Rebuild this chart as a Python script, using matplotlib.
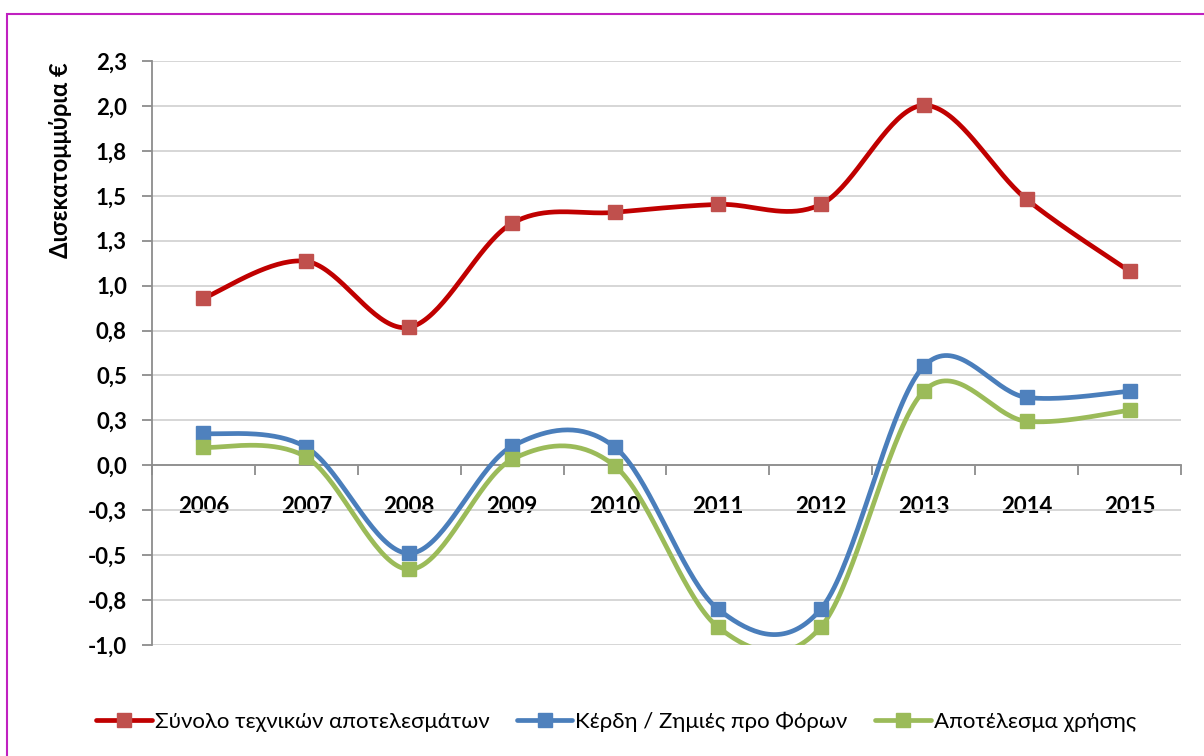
import numpy as np
import matplotlib
matplotlib.use("Agg")
import matplotlib.pyplot as plt
from matplotlib.patches import Rectangle
from matplotlib.lines import Line2D

plt.rcParams['font.family'] = ['Lato', 'DejaVu Sans']

years = ['2006', '2007', '2008', '2009', '2010', '2011', '2012', '2013', '2014', '2015']
total_technical = [0.93, 1.135, 0.768, 1.347, 1.408, 1.452, 1.452, 2.003, 1.48, 1.08]
profit_before_tax = [0.178, 0.10, -0.49, 0.106, 0.10, -0.80, -0.80, 0.551, 0.378, 0.412]
net_result = [0.10, 0.045, -0.579, 0.033, -0.005, -0.90, -0.90, 0.412, 0.245, 0.306]
series_names = ['Σύνολο τεχνικών αποτελεσμάτων', 'Κέρδη / Ζημιές προ Φόρων', 'Αποτέλεσμα χρήσης']
yticks = [-1.0, -0.75, -0.5, -0.25, 0.0, 0.25, 0.5, 0.75, 1.0, 1.25, 1.5, 1.75, 2.0, 2.25]
ytick_labels = ['-1,0', '-0,8', '-0,5', '-0,3', '0,0', '0,3', '0,5', '0,8', '1,0', '1,3', '1,5', '1,8', '2,0', '2,3']
ylabel = 'Δισεκατομμύρια €'


def smooth(x, y, n=40):
    """Catmull-Rom style Bezier smoothing (as spreadsheet 'smoothed line')."""
    x = np.asarray(x, float)
    y = np.asarray(y, float)
    px = np.concatenate([[x[0]], x, [x[-1]]])
    py = np.concatenate([[y[0]], y, [y[-1]]])
    xs, ys = [], []
    t = np.linspace(0, 1, n)
    for i in range(1, len(px) - 2):
        p0 = np.array([px[i], py[i]])
        p3 = np.array([px[i + 1], py[i + 1]])
        c1 = p0 + (np.array([px[i + 1], py[i + 1]]) - np.array([px[i - 1], py[i - 1]])) / 6
        c2 = p3 - (np.array([px[i + 2], py[i + 2]]) - np.array([px[i], py[i]])) / 6
        b = ((1 - t) ** 3)[:, None] * p0 + (3 * (1 - t) ** 2 * t)[:, None] * c1 \
            + (3 * (1 - t) * t ** 2)[:, None] * c2 + (t ** 3)[:, None] * p3
        xs.append(b[:, 0])
        ys.append(b[:, 1])
    return np.concatenate(xs), np.concatenate(ys)


W, H = 1204, 756
fig = plt.figure(figsize=(W / 100, H / 100), dpi=100)
ax = fig.add_axes([152 / W, 1 - 645 / H, (1181 - 152) / W, (645 - 61) / H])

x = np.arange(len(years))
styles = [
    (total_technical, '#C00000', '#C0504D'),
    (profit_before_tax, '#4A7EBB', '#4F81BD'),
    (net_result, '#9BBB59', '#9BBB59'),
]
handles = []
for (vals, lc, mc), name in zip(styles, series_names):
    sx, sy = smooth(x, vals)
    ax.plot(sx, sy, color=lc, lw=3.4, solid_capstyle='round', zorder=3)
    ax.plot(x, vals, ls='none', marker='s', ms=9.5, mfc=mc, mec=mc, zorder=4)
    handles.append(Line2D([0], [0], color=lc, lw=3.4, marker='s', ms=9.5,
                          mfc=mc, mec=mc, solid_capstyle='round'))

ax.set_xlim(-0.5, len(years) - 0.5)
ax.set_ylim(-1.0, 2.25)
ax.set_yticks(yticks)
ax.set_yticklabels(ytick_labels, fontsize=16, fontweight='bold')
ax.grid(axis='y', color='#D0D0D0', lw=1.2, zorder=0)

ax.spines['top'].set_visible(False)
ax.spines['right'].set_visible(False)
ax.spines['left'].set_color('#8C8C8C')
ax.spines['left'].set_linewidth(1.3)
ax.spines['bottom'].set_position(('data', 0))
ax.spines['bottom'].set_color('#8C8C8C')
ax.spines['bottom'].set_linewidth(1.3)

ax.tick_params(axis='y', direction='out', length=7, width=1.3, color='#8C8C8C', pad=11)
ax.set_xticks(x)
ax.set_xticklabels(years, fontsize=16, fontweight='bold')
ax.tick_params(axis='x', which='major', length=0, pad=22)
ax.set_xticks(np.arange(len(years) + 1) - 0.5, minor=True)
ax.tick_params(axis='x', which='minor', direction='out', length=7, width=1.3, color='#8C8C8C')

fig.text(61 / W, 1 - 160 / H, ylabel, rotation=90, ha='center', va='center',
         fontsize=17, fontweight='bold')

leg = fig.legend(handles, series_names, loc='center', bbox_to_anchor=(616 / W, 1 - 722 / H),
                 ncol=3, frameon=False, fontsize=16, handlelength=2.5, handletextpad=0.13,
                 columnspacing=1.25)

fig.patches.append(Rectangle((7 / W, -0.1), 1.2, 1.1 - 14 / H, transform=fig.transFigure,
                             fill=False, edgecolor='#C020C0', lw=1.5))

fig.savefig('out.png', dpi=100)
